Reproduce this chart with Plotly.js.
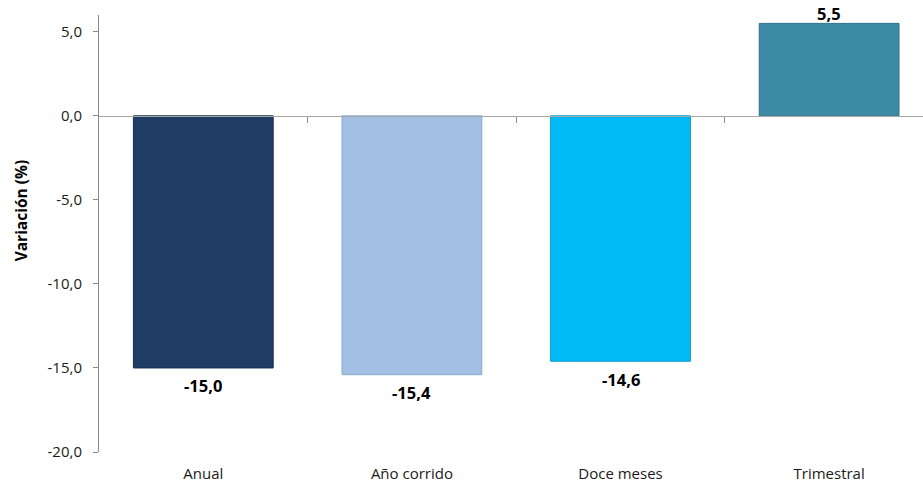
<!DOCTYPE html>
<html>
<head>
<meta charset="utf-8">
<script src="https://cdn.plot.ly/plotly-3.0.1.min.js"></script>
<style>html,body{margin:0;padding:0;background:#fff;}#chart{width:923px;height:482px;}</style>
</head>
<body>
<div id="chart"></div>
<script>
const categories = ["Anual", "Año corrido", "Doce meses", "Trimestral"];
const values = [-15.0, -15.4, -14.6, 5.5];
const barColors = ["#1F3C64", "#A2BFE4", "#00BBF8", "#3A8BA3"];
const barEdges = ["#162D4C", "#8AA7CC", "#0A9ACC", "#2D7189"];
const yTickVals = [-20, -15, -10, -5, 0, 5];
const yTitle = "Variación (%)";

const fmt = v => v.toFixed(1).replace(".", ",");
const idx = categories.map((_, i) => i);

const traces = [
  {
    type: "bar",
    x: idx,
    y: values,
    width: 0.67,
    marker: { color: barColors, line: { color: barEdges, width: 1 } },
    hoverinfo: "skip",
    xaxis: "x",
    yaxis: "y"
  },
  {
    type: "scatter",
    x: [0],
    y: [0],
    mode: "markers",
    marker: { opacity: 0 },
    hoverinfo: "skip",
    showlegend: false,
    xaxis: "x2",
    yaxis: "y"
  }
];

const annotations = values.map((v, i) => ({
  x: i,
  y: v,
  xref: "x",
  yref: "y",
  text: "<b>" + fmt(v) + "</b>",
  showarrow: false,
  yshift: v < 0 ? -18 : 10,
  font: { family: "Open Sans, sans-serif", size: 16.5, color: "#000" }
}));

annotations.push({
  xref: "paper",
  yref: "paper",
  x: -99 / 824,
  xanchor: "left",
  xshift: 8,
  y: 0.553,
  yanchor: "middle",
  textangle: -90,
  text: "<b>" + yTitle + "</b>",
  showarrow: false,
  font: { family: "Open Sans, sans-serif", size: 15.5, color: "#000" }
});

const layout = {
  width: 923,
  height: 482,
  margin: { l: 99, r: 0, t: 15, b: 30 },
  paper_bgcolor: "#fff",
  plot_bgcolor: "#fff",
  showlegend: false,
  separators: ",.",
  font: { family: "Open Sans, sans-serif", size: 14, color: "#1a1a1a" },
  xaxis: {
    range: [-0.5, 3.45],
    tickvals: idx,
    ticktext: categories,
    ticks: "",
    showline: false,
    showgrid: false,
    zeroline: false,
    ticklabelstandoff: 11,
    tickfont: { size: 15, color: "#1a1a1a" },
    fixedrange: true
  },
  xaxis2: {
    overlaying: "x",
    matches: "x",
    anchor: "free",
    position: 20 / 26,
    side: "bottom",
    range: [-0.5, 3.45],
    tickvals: [0.5, 1.5, 2.5],
    showticklabels: false,
    ticks: "outside",
    ticklen: 6,
    tickcolor: "#898989",
    showline: true,
    linecolor: "#A6A6A6",
    linewidth: 1.5,
    showgrid: false,
    zeroline: false
  },
  yaxis: {
    range: [-20, 6],
    tickvals: yTickVals,
    ticktext: yTickVals.map(fmt),
    ticks: "outside",
    ticklen: 5,
    tickcolor: "#898989",
    showline: true,
    linecolor: "#898989",
    linewidth: 1,
    showgrid: false,
    zeroline: false,
    ticklabelstandoff: 8,
    tickfont: { size: 15, color: "#1a1a1a" },
    fixedrange: true
  },
  annotations: annotations
};

Plotly.newPlot("chart", traces, layout, { displayModeBar: false, staticPlot: true });
</script>
</body>
</html>
